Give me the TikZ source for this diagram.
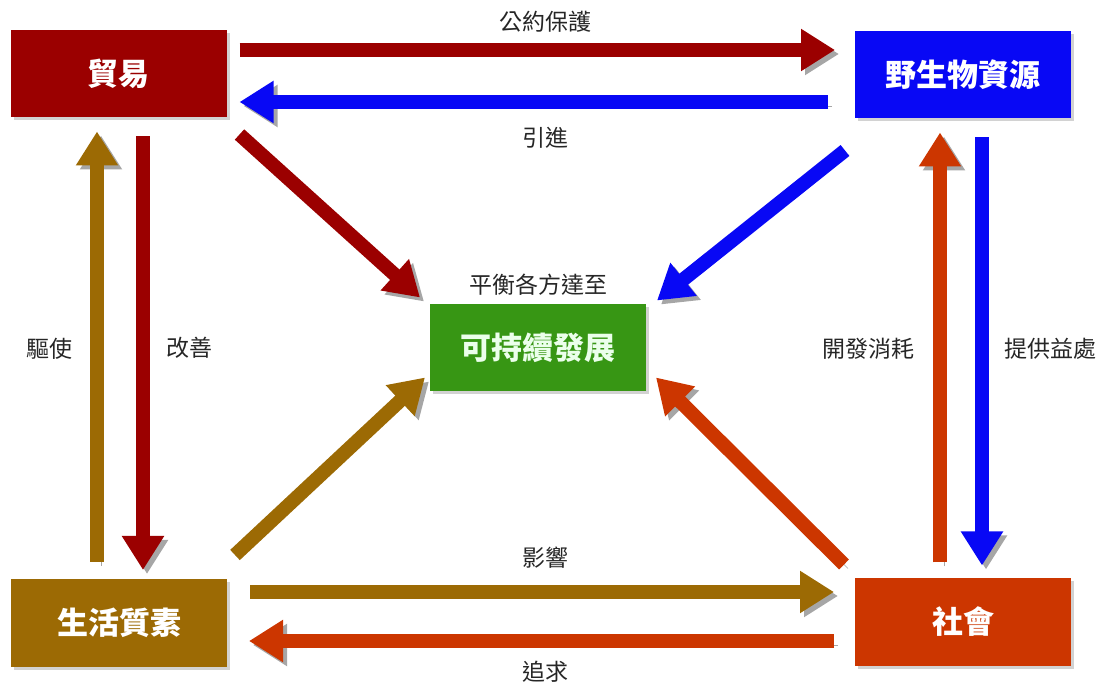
\documentclass[tikz,border=0pt]{standalone}
\usepackage{fontspec}
\usepackage{xcolor}
\setmainfont{Noto Sans CJK TC}
\usetikzlibrary{arrows.meta,calc,shadows,positioning}

\definecolor{tradered}{RGB}{155,0,0}
\definecolor{wildblue}{RGB}{8,8,245}
\definecolor{lifebrown}{RGB}{156,106,4}
\definecolor{socorange}{RGB}{204,54,0}
\definecolor{goalgreen}{RGB}{55,150,20}

\tikzset{
  box/.style={fill=#1, text=white, font=\fontsize{31}{34}\selectfont\bfseries,
    minimum width=216pt, minimum height=87pt, inner sep=0pt, outer sep=0pt,
    drop shadow={shadow xshift=3pt, shadow yshift=-3pt, fill=black!35}},
  flow/.style={draw=#1, line width=14pt, -{Triangle[width=40pt,length=34pt]},
    preaction={draw=black!35, transform canvas={shift={(4pt,-4pt)}}}},
  lbl/.style={font=\fontsize{23}{25}\selectfont, text=black!85}
}

\begin{document}
\begin{tikzpicture}[x=1pt, y=1pt]
  \useasboundingbox (0,0) rectangle (1108,688);

  \node (trade) [box=tradered] at (118.5,614) {貿易};
  \node (wild) [box=wildblue] at (963,613) {野生物資源};
  \node (life) [box=lifebrown] at (119,65) {生活質素};
  \node (soc) [box=socorange] at (963,66) {社會};
  \node (goal) [box=goalgreen, text=green!8] at (538,340) {可持續發展};

  \node (goaltxt) [lbl, above=6pt of goal] {平衡各方達至};
  \node (protect) [lbl] at (545,666) {公約保護};
  \node (intro) [lbl] at (545,550) {引進};
  \node (drive) [lbl] at (50,339) {驅使};
  \node (improve) [lbl] at (189,340) {改善};
  \node (exploit) [lbl] at (868,339) {開發消耗};
  \node (benefit) [lbl] at (1050,339) {提供益處};
  \node (affect) [lbl] at (545,130) {影響};
  \node (pursue) [lbl] at (545,16) {追求};

  \draw [flow=tradered] ($(trade.east)+(13,24)$) -- ($(wild.west)+(-20,25)$);
  \draw [flow=wildblue] ($(wild.west)+(-27,-27)$) -- ($(trade.east)+(13,-28)$);

  \draw [flow=lifebrown] ($(life.north)+(-22,17.5)$) -- ($(trade.south)+(-21.5,-14)$);
  \draw [flow=tradered] ($(trade.south)+(24.5,-19)$) -- ($(life.north)+(24,9.5)$);

  \draw [flow=socorange] ($(soc.north)+(-23,16)$) -- ($(wild.south)+(-23,-14)$);
  \draw [flow=wildblue] ($(wild.south)+(19,-19)$) -- ($(soc.north)+(19,13)$);

  \draw [flow=lifebrown] ($(life.east)+(23,31)$) -- ($(soc.west)+(-21,30)$);
  \draw [flow=socorange] ($(soc.west)+(-21,-19)$) -- ($(life.east)+(22,-18)$);

  \draw [flow=tradered] ($(trade.south east)+(13,-17)$) -- ($(goal.north west)+(-10,7)$);
  \draw [flow=wildblue] ($(wild.south west)+(-10,-32)$) -- ($(goal.north east)+(11,4)$);
  \draw [flow=lifebrown] ($(life.north east)+(8,24.5)$) -- ($(goal.south west)+(-5,14)$);
  \draw [flow=socorange] ($(soc.north west)+(-11,14)$) -- ($(goal.south east)+(10,14)$);
\end{tikzpicture}
\end{document}
